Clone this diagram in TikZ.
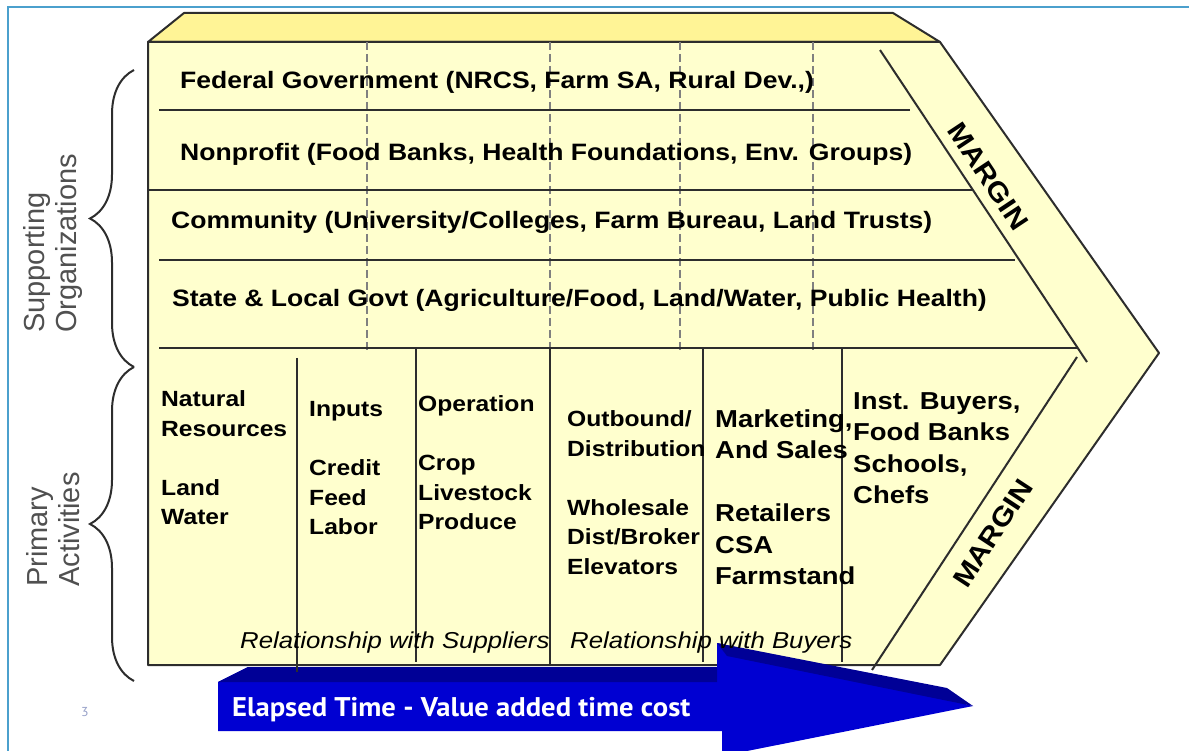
\documentclass[tikz,border=0pt]{standalone}
\usepackage{fontspec}
\setmainfont{Liberation Sans}[FakeStretch=1.12]
\newfontfamily\sidefont{Liberation Sans}
\newfontfamily\arrowfont{PT Sans}[FakeStretch=1.06]
\usetikzlibrary{decorations.pathreplacing}

\definecolor{frameblue}{RGB}{75,160,205}
\definecolor{chainfront}{RGB}{255,255,206}
\definecolor{chaintop}{RGB}{255,244,150}
\definecolor{arrowblue}{RGB}{0,0,210}
\definecolor{arrowdark}{RGB}{0,0,150}
\definecolor{sidegray}{RGB}{80,80,80}
\definecolor{linegray}{RGB}{45,45,45}
\definecolor{pagegray}{RGB}{150,160,200}

\tikzset{
  chainline/.style={draw=linegray, line width=2pt, line join=round},
  dashcol/.style={draw=gray, line width=1.3pt, dash pattern=on 8pt off 4pt},
  rowtext/.style={anchor=base west, inner sep=0pt, font=\bfseries\fontsize{23.7}{28}\selectfont},
  coltext/.style={anchor=north west, inner sep=0pt, align=left, font=\bfseries\fontsize{22}{29.5}\selectfont},
  bigcoltext/.style={anchor=north west, inner sep=0pt, align=left, font=\bfseries\fontsize{24.5}{31.5}\selectfont},
  sidetext/.style={rotate=90, anchor=west, inner sep=0pt, align=left, text=sidegray, font=\sidefont\fontsize{29}{32}\selectfont},
  margintext/.style={inner sep=0pt, font=\bfseries\fontsize{27}{30}\selectfont},
  reltext/.style={anchor=base west, inner sep=0pt, font=\itshape\fontsize{23}{26}\selectfont},
  sidebrace/.style={draw=linegray, line width=2pt, decorate, decoration={brace, amplitude=44pt}}
}

\begin{document}
\begin{tikzpicture}[x=1pt, y=-1pt]
  \def\ytop{42}
  \def\ybot{665}
  \def\yprim{348}
  \useasboundingbox (0,0) rectangle (1189,751);

  % Frame
  \draw[frameblue, line width=2.5pt] (8,770) -- (8,7) -- (1210,7);

  % Chain body
  \coordinate (TL) at (148,\ytop);
  \coordinate (TR) at (940,\ytop);
  \coordinate (tip) at (1159,353);
  \coordinate (BR) at (940,\ybot);
  \coordinate (BL) at (148,\ybot);
  \filldraw[chainline, fill=chaintop] (TL) -- (184,13) -- (893,13) -- (TR) -- cycle;
  \filldraw[chainline, fill=chainfront] (TL) -- (TR) -- (tip) -- (BR) -- (BL) -- cycle;

  % Dashed columns
  \draw[dashcol] (367,\ytop) -- (367,352);
  \draw[dashcol] (550,\ytop) -- (550,352);
  \draw[dashcol] (680,\ytop) -- (680,352);
  \draw[dashcol] (813,\ytop) -- (813,352);

  % Row lines
  \draw[chainline] (159,110) -- (910,110);
  \draw[chainline] (148,190) -- (973,190);
  \draw[chainline] (159,260) -- (1015,260);
  \draw[chainline] (159,\yprim) -- (1078,\yprim);

  % Time arrow
  \fill[arrowblue] (218,682) -- (248,667) -- (717,667) -- (717,643) -- (973,706)
    -- (722,756) -- (722,731) -- (218,731) -- cycle;
  \fill[arrowdark] (218,682) -- (248,667) -- (717,667) -- (717,682) -- cycle;
  \fill[arrowdark] (717,643) -- (947,688) -- (973,706) -- (727,656) -- cycle;
  \node[anchor=base west, inner sep=0pt, text=white, font=\arrowfont\bfseries\fontsize{27}{30}\selectfont]
    (elapsed) at (232,716.5) {Elapsed Time - Value added time cost};

  % Column lines and margin lines
  \draw[chainline] (297,358) -- (297,672);
  \draw[chainline] (416,\yprim) -- (416,662);
  \draw[chainline] (550,\yprim) -- (550,\ybot);
  \draw[chainline] (703,\yprim) -- (703,662);
  \draw[chainline] (842,\yprim) -- (842,662);
  \draw[chainline] (880,50) -- (1087,362);
  \draw[chainline] (1077,357) -- (872,670);

  % Supporting rows
  \node[rowtext] (federal) at (180,88.6) {Federal Government (NRCS, Farm SA, Rural Dev.,)};
  \node[rowtext] (nonprofit) at (180,160.6) {Nonprofit (Food Banks, Health Foundations, Env. Groups)};
  \node[rowtext] (community) at (171,228.6) {Community (University/Colleges, Farm Bureau, Land Trusts)};
  \node[rowtext] (stategov) at (172,306.6) {State \& Local Govt (Agriculture/Food, Land/Water, Public Health)};

  % Primary activities
  \node[coltext] (natres) at (161,386) {\strut Natural\\Resources\\[29.5pt]Land\\Water};
  \node[coltext] (inputs) at (309,396) {\strut Inputs\\[29.5pt]Credit\\Feed\\Labor};
  \node[coltext] (operation) at (418,391) {\strut Operation\\[29.5pt]Crop\\Livestock\\Produce};
  \node[coltext] (outbound) at (567,406) {\strut Outbound/\\Distribution\\[29.5pt]Wholesale\\Dist/Broker\\Elevators};
  \node[bigcoltext] (marketing) at (715,405) {\strut Marketing,\\And Sales\\[31.5pt]Retailers\\CSA\\Farmstand};
  \node[bigcoltext] (instbuyers) at (853,387) {\strut Inst. Buyers,\\Food Banks\\Schools,\\Chefs};

  \node[reltext] (relsup) at (240,648) {Relationship with Suppliers};
  \node[reltext] (relbuy) at (570,648) {Relationship with Buyers};

  % Margin labels
  \node[margintext, rotate=-56.4] (margintop) at (988,176) {MARGIN};
  \node[margintext, rotate=56.7] (marginbot) at (993,533) {MARGIN};

  % Braces and side labels
  \draw[sidebrace] (134,367) -- (134,70);
  \draw[sidebrace] (134,681) -- (134,367);
  \node[sidetext] (suporg) at (53,333) {Supporting\\Organizations};
  \node[sidetext] (primact) at (53,587) {Primary\\Activities};

  \node[text=pagegray, font=\arrowfont\fontsize{13}{14}\selectfont] (pagenum) at (85,712) {3};
\end{tikzpicture}
\end{document}
